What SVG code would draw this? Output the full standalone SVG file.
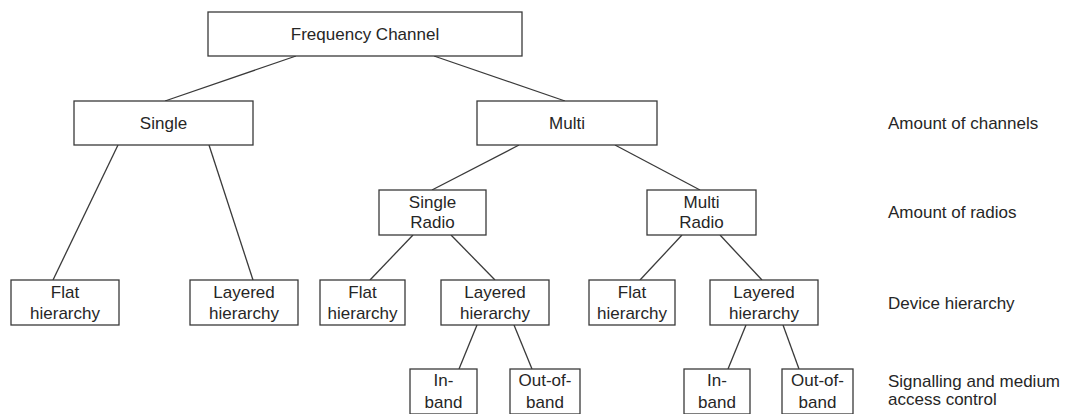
<svg xmlns="http://www.w3.org/2000/svg" width="1065" height="414" viewBox="0 0 1065 414">
  <style>
    .box { fill: #ffffff; stroke: #3a3a3a; stroke-width: 1.3; }
    .edge { stroke: #3a3a3a; stroke-width: 1.3; fill: none; }
    text { font-family: "Liberation Sans", Arial, sans-serif; font-size: 17px; fill: #262626; }
    .c { text-anchor: middle; }
  </style>
  <rect width="1065" height="414" fill="#ffffff"/>

  <!-- connectors -->
  <g id="connectors">
    <line class="edge" x1="296" y1="56" x2="165" y2="101"/>
    <line class="edge" x1="434" y1="56" x2="565" y2="101"/>
    <line class="edge" x1="118" y1="145" x2="53" y2="280"/>
    <line class="edge" x1="209" y1="145" x2="253" y2="280"/>
    <line class="edge" x1="519" y1="145" x2="432" y2="190"/>
    <line class="edge" x1="615" y1="145" x2="700" y2="190"/>
    <line class="edge" x1="413" y1="235" x2="370" y2="280"/>
    <line class="edge" x1="451" y1="235" x2="495" y2="280"/>
    <line class="edge" x1="682" y1="235" x2="640" y2="280"/>
    <line class="edge" x1="720" y1="235" x2="762" y2="280"/>
    <line class="edge" x1="477" y1="325" x2="459" y2="369"/>
    <line class="edge" x1="514" y1="325" x2="532" y2="369"/>
    <line class="edge" x1="746" y1="325" x2="728" y2="369"/>
    <line class="edge" x1="783" y1="325" x2="799" y2="369"/>
  </g>

  <!-- level 0 -->
  <g id="frequency-channel">
    <rect class="box" x="208" y="12" width="314" height="44"/>
    <text class="c" x="365" y="40">Frequency Channel</text>
  </g>

  <!-- level 1: amount of channels -->
  <g id="single">
    <rect class="box" x="74" y="101" width="179" height="44"/>
    <text class="c" x="163.5" y="129">Single</text>
  </g>
  <g id="multi">
    <rect class="box" x="477" y="101" width="180" height="44"/>
    <text class="c" x="567" y="129">Multi</text>
  </g>

  <!-- level 2: amount of radios -->
  <g id="single-radio">
    <rect class="box" x="379" y="190" width="107" height="45"/>
    <text class="c" x="432.5" y="208">Single</text>
    <text class="c" x="432.5" y="228">Radio</text>
  </g>
  <g id="multi-radio">
    <rect class="box" x="647" y="190" width="109" height="45"/>
    <text class="c" x="701.5" y="208">Multi</text>
    <text class="c" x="701.5" y="228">Radio</text>
  </g>

  <!-- level 3: device hierarchy -->
  <g id="flat-1">
    <rect class="box" x="11" y="280" width="108" height="45"/>
    <text class="c" x="65" y="298">Flat</text>
    <text class="c" x="65" y="319">hierarchy</text>
  </g>
  <g id="layered-1">
    <rect class="box" x="190" y="280" width="108" height="45"/>
    <text class="c" x="244" y="298">Layered</text>
    <text class="c" x="244" y="319">hierarchy</text>
  </g>
  <g id="flat-2">
    <rect class="box" x="320" y="280" width="85" height="45"/>
    <text class="c" x="362.5" y="298">Flat</text>
    <text class="c" x="362.5" y="319">hierarchy</text>
  </g>
  <g id="layered-2">
    <rect class="box" x="441" y="280" width="108" height="45"/>
    <text class="c" x="495" y="298">Layered</text>
    <text class="c" x="495" y="319">hierarchy</text>
  </g>
  <g id="flat-3">
    <rect class="box" x="589" y="280" width="86" height="45"/>
    <text class="c" x="632" y="298">Flat</text>
    <text class="c" x="632" y="319">hierarchy</text>
  </g>
  <g id="layered-3">
    <rect class="box" x="710" y="280" width="108" height="45"/>
    <text class="c" x="764" y="298">Layered</text>
    <text class="c" x="764" y="319">hierarchy</text>
  </g>

  <!-- level 4: signalling and medium access control -->
  <g id="in-band-1">
    <rect class="box" x="410" y="369" width="67" height="45"/>
    <text class="c" x="443.5" y="386">In-</text>
    <text class="c" x="443.5" y="408">band</text>
  </g>
  <g id="out-of-band-1">
    <rect class="box" x="510" y="369" width="70" height="45"/>
    <text class="c" x="545" y="386">Out-of-</text>
    <text class="c" x="545" y="408">band</text>
  </g>
  <g id="in-band-2">
    <rect class="box" x="684" y="369" width="66" height="45"/>
    <text class="c" x="717" y="386">In-</text>
    <text class="c" x="717" y="408">band</text>
  </g>
  <g id="out-of-band-2">
    <rect class="box" x="782" y="369" width="71" height="45"/>
    <text class="c" x="817.5" y="386">Out-of-</text>
    <text class="c" x="817.5" y="408">band</text>
  </g>

  <!-- level captions -->
  <g id="captions">
    <text x="888" y="129">Amount of channels</text>
    <text x="888" y="218">Amount of radios</text>
    <text x="888" y="309">Device hierarchy</text>
    <text x="888" y="387">Signalling and medium</text>
    <text x="888" y="405">access control</text>
  </g>
</svg>
